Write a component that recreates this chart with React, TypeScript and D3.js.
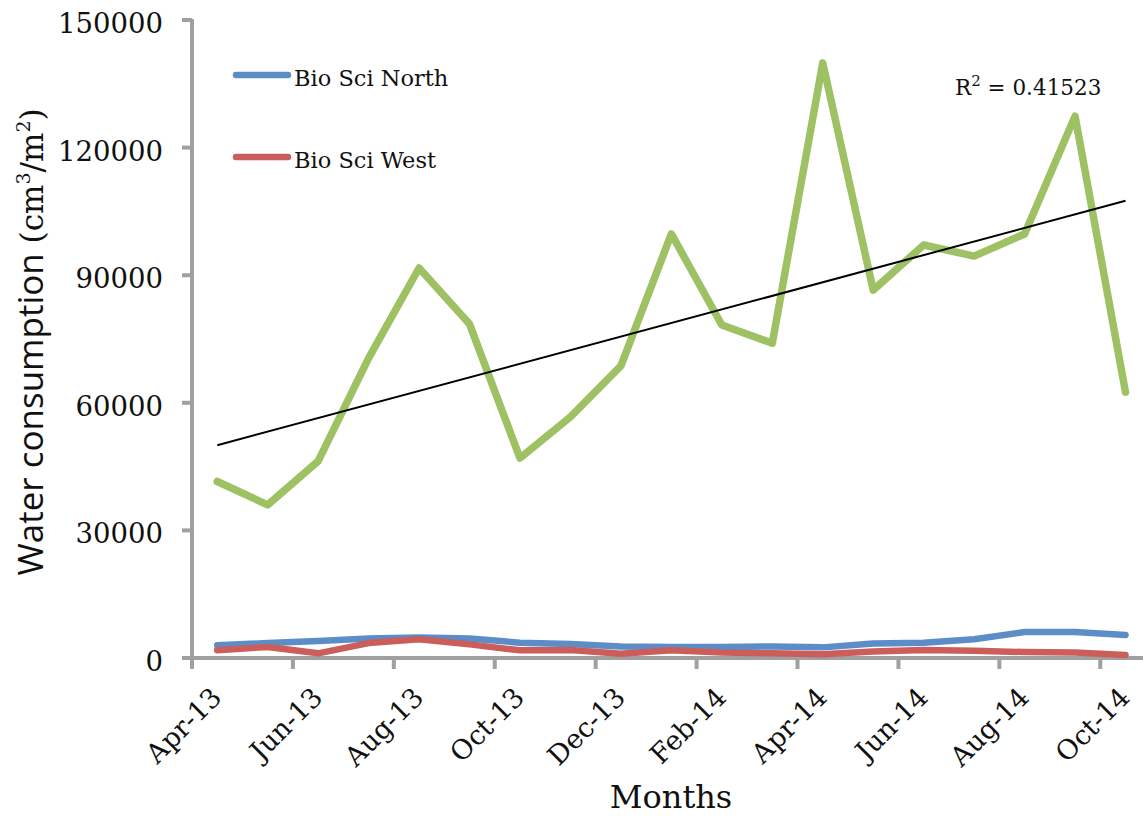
import React from "react";
import * as d3 from "d3";

const months = [
  "Apr-13", "May-13", "Jun-13", "Jul-13", "Aug-13", "Sep-13", "Oct-13", "Nov-13", "Dec-13",
  "Jan-14", "Feb-14", "Mar-14", "Apr-14", "May-14", "Jun-14", "Jul-14", "Aug-14", "Sep-14", "Oct-14",
];
const bioSciNorth = [3000, 3500, 4000, 4600, 4800, 4600, 3600, 3300, 2700, 2600, 2600, 2700, 2500, 3400, 3600, 4400, 6100, 6100, 5400];
const bioSciWest = [1800, 2600, 1100, 3500, 4400, 3200, 1800, 1900, 1000, 1800, 1300, 1100, 900, 1500, 1900, 1700, 1400, 1300, 700];
const combinedSeries = [41500, 36000, 46300, 70500, 91700, 78500, 47000, 56700, 68700, 99700, 78300, 74000, 139900, 86500, 97100, 94500, 99700, 127400, 62500];
const yTicks = [0, 30000, 60000, 90000, 120000, 150000];
const legendNames = ["Bio Sci North", "Bio Sci West"];
const r2Label = "0.41523";

const W = 1143;
const H = 816;
const left = 192;
const catW = 50.46;
const top = 20;
const bottom = 658;

const COL_N = "#5B8EC9";
const COL_W = "#CB5E5A";
const COL_G = "#9DC163";
const AXIS = "#A0A0A0";
const SERIF = "'DejaVu Serif', serif";

export default function App() {
  const x = d3.scaleBand<string>().domain(months).range([left, left + catW * months.length]).paddingInner(0).paddingOuter(0);
  const bw = x.bandwidth();
  const cx = (m: string) => (x(m) as number) + bw / 2;
  const y = d3.scaleLinear().domain([0, 150000]).range([bottom, top]);

  const line = (vals: number[]) =>
    d3.line<number>().x((_, i) => cx(months[i])).y((v) => y(v))(vals) as string;

  // linear trend of the combined series
  const n = combinedSeries.length;
  const idx = d3.range(n);
  const mx = d3.mean(idx) as number;
  const my = d3.mean(combinedSeries) as number;
  const slope =
    d3.sum(idx, (i) => (i - mx) * (combinedSeries[i] - my)) / d3.sum(idx, (i) => (i - mx) ** 2);
  const icpt = my - slope * mx;
  const t0 = icpt;
  const t1 = icpt + slope * (n - 1);

  const xEnd = left + catW * months.length;

  return (
    <svg width={W} height={H} style={{ position: "absolute", left: 0, top: 0, background: "#fff" }}>
      <rect width={W} height={H} fill="#fff" />
      {/* y axis */}
      <line x1={left} x2={left} y1={top - 1} y2={bottom + 2} stroke={AXIS} strokeWidth={4} />
      {yTicks.map((t) => (
        <g key={t}>
          <line x1={left - 10} x2={left} y1={y(t)} y2={y(t)} stroke={AXIS} strokeWidth={4} />
          <text x={163} y={y(t) + 13} textAnchor="end" fontFamily={SERIF} fontSize={27.5} fill="#111">
            {t}
          </text>
        </g>
      ))}
      {/* x axis */}
      <line x1={left - 2} x2={xEnd + 2} y1={bottom} y2={bottom} stroke={AXIS} strokeWidth={4} />
      {months.map((m, i) =>
        i % 2 === 0 ? (
          <g key={m}>
            <line x1={x(m) as number} x2={x(m) as number} y1={bottom} y2={bottom + 11} stroke={AXIS} strokeWidth={4} />
            <text
              transform={`translate(${cx(m) + 6},${699}) rotate(-45)`}
              textAnchor="end"
              fontFamily={SERIF}
              fontSize={27}
              fill="#111"
            >
              {m}
            </text>
          </g>
        ) : null
      )}
      <line x1={xEnd} x2={xEnd} y1={bottom} y2={bottom + 11} stroke={AXIS} strokeWidth={4} />

      {/* series */}
      <path d={line(bioSciNorth)} fill="none" stroke={COL_N} strokeWidth={6.5} strokeLinejoin="round" strokeLinecap="round" />
      <path d={line(bioSciWest)} fill="none" stroke={COL_W} strokeWidth={6.5} strokeLinejoin="round" strokeLinecap="round" />
      <path d={line(combinedSeries)} fill="none" stroke={COL_G} strokeWidth={7.5} strokeLinejoin="round" strokeLinecap="round" />
      {/* trend line */}
      <line x1={cx(months[0])} x2={cx(months[n - 1])} y1={y(t0)} y2={y(t1)} stroke="#000" strokeWidth={2} />

      {/* legend */}
      {legendNames.map((name, i) => (
        <g key={name}>
          <line
            x1={236}
            x2={288}
            y1={75 + i * 82}
            y2={75 + i * 82}
            stroke={i === 0 ? COL_N : COL_W}
            strokeWidth={6.5}
            strokeLinecap="round"
          />
          <text x={294} y={86 + i * 82} fontFamily={SERIF} fontSize={22.5} fill="#111">
            {name}
          </text>
        </g>
      ))}

      {/* R² label */}
      <text x={955} y={95} fontFamily={SERIF} fontSize={21.5} fill="#111">
        R<tspan fontSize={15} dy={-9}>2</tspan>
        <tspan dy={9}> = {r2Label}</tspan>
      </text>

      {/* axis titles */}
      <text transform="translate(43,342) rotate(-90)" textAnchor="middle" fill="#111">
        <tspan fontFamily="'Open Sans', sans-serif" fontSize={35}>Water consumption</tspan>
        <tspan fontFamily={SERIF} fontSize={31}> (cm</tspan>
        <tspan fontFamily={SERIF} fontSize={19} dy={-13}>3</tspan>
        <tspan fontFamily={SERIF} fontSize={31} dy={13}>/m</tspan>
        <tspan fontFamily={SERIF} fontSize={19} dy={-13}>2</tspan>
        <tspan fontFamily={SERIF} fontSize={31} dy={13}>)</tspan>
      </text>
      <text x={671} y={808} textAnchor="middle" fontFamily={SERIF} fontSize={32} fill="#111">
        Months
      </text>
    </svg>
  );
}
